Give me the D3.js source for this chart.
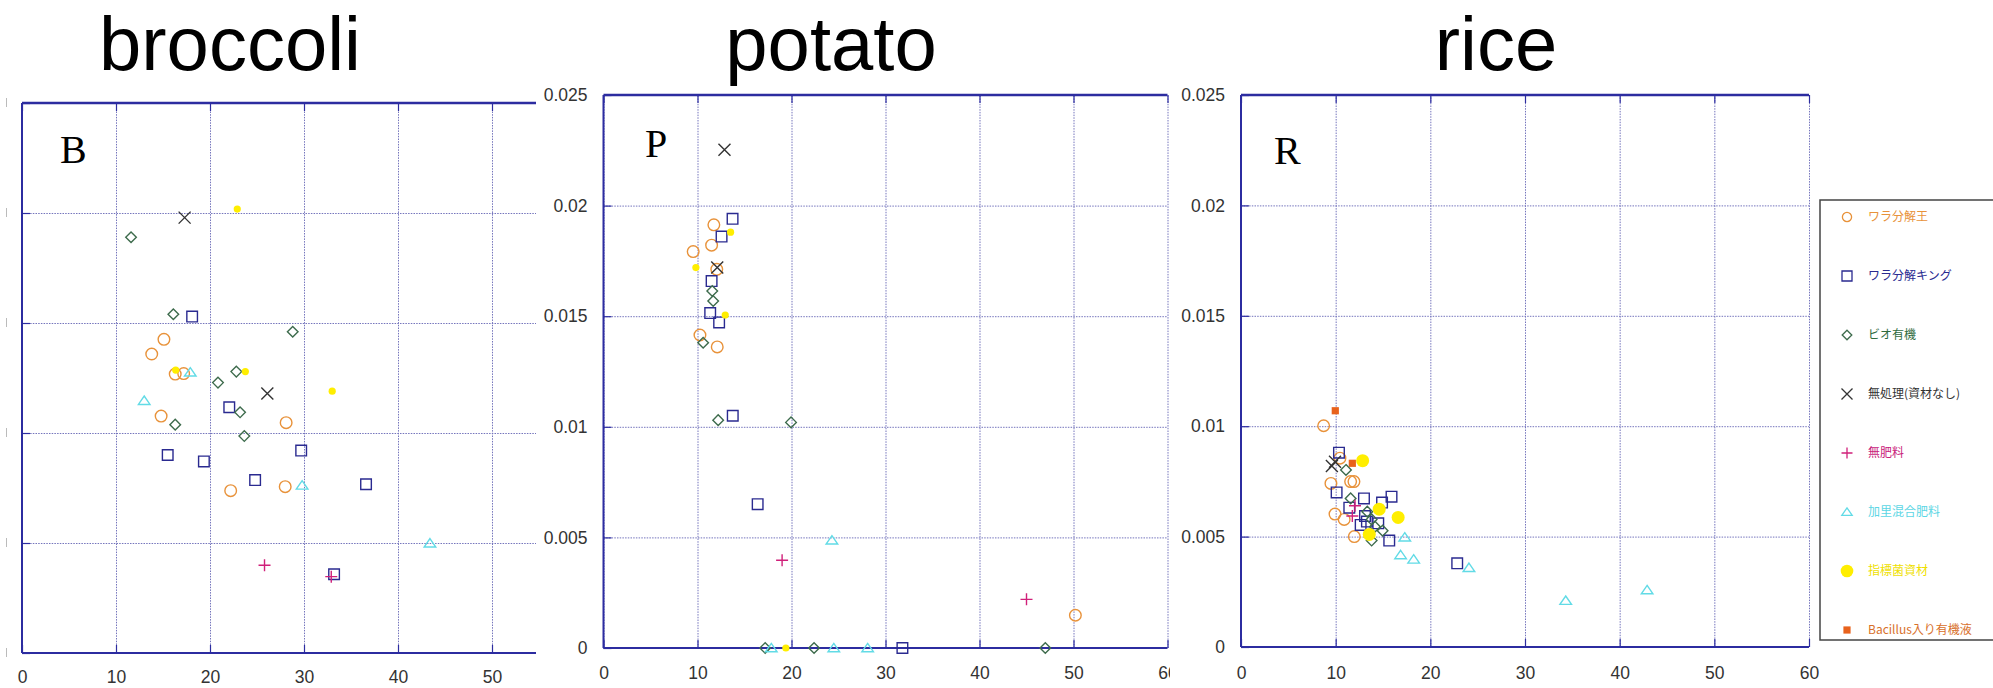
<!DOCTYPE html>
<html><head><meta charset="utf-8">
<script src="https://cdn.jsdelivr.net/npm/d3@7"></script>
<style>body{margin:0;background:#fff;} svg{display:block}</style>
</head><body>
<svg id="c" width="1993" height="688"></svg>
<script>
// ---------- data ----------
const cropTitles = ["broccoli", "potato", "rice"];
const panelLetters = ["B", "P", "R"];
const seriesNames = ["ワラ分解王", "ワラ分解キング", "ビオ有機", "無処理(資材なし)", "無肥料", "加里混合肥料", "指標菌資材", "Bacillus入り有機液"];
const xTicksBroccoli = [0, 10, 20, 30, 40, 50];
const xTicks = [0, 10, 20, 30, 40, 50, 60];
const yTicks = [0, 0.005, 0.01, 0.015, 0.02, 0.025];
const yTickLabels = ["0", "0.005", "0.01", "0.015", "0.02", "0.025"];

// broccoli
const broccoliWaraO = [[15.1,0.01426],[13.8,0.01359],[16.3,0.01268],[17.2,0.0127],[14.8,0.01077],[28.1,0.01047],[22.2,0.00738],[28.0,0.00756]];
const broccoliWaraKing = [[18.1,0.01529],[22.05,0.01117],[29.7,0.0092],[15.5,0.009],[19.35,0.00871],[24.8,0.00786],[36.6,0.00767],[33.2,0.00358]];
const broccoliBio = [[11.6,0.0189],[16.1,0.0154],[28.8,0.0146],[20.85,0.01229],[22.8,0.01279],[23.2,0.01094],[16.3,0.01038],[23.65,0.00986]];
const broccoliNone = [[17.3,0.01979],[26.1,0.0118]];
const broccoliNoFert = [[25.8,0.00399],[32.9,0.00347]];
const broccoliKali = [[17.9,0.01276],[13.0,0.01147],[29.8,0.00762],[43.4,0.00499]];
const broccoliIndicator = [[22.9,0.02018],[16.35,0.01286],[23.76,0.01279],[33.0,0.0119]];
const broccoliBacillus = [];

// potato
const potatoWaraO = [[11.74,0.01913],[11.5,0.01821],[9.54,0.01792],[12.05,0.01712],[10.26,0.01415],[12.1,0.01361],[50.2,0.00148]];
const potatoWaraKing = [[13.73,0.0194],[12.56,0.0186],[11.5,0.01659],[11.35,0.01514],[12.3,0.01472],[13.75,0.0105],[16.4,0.0065],[31.8,0]];
const potatoBio = [[11.57,0.01614],[11.67,0.01569],[10.6,0.0138],[12.2,0.0103],[19.95,0.0102],[17.2,0],[22.4,0],[47.0,0]];
const potatoNone = [[12.87,0.02252],[12.1,0.0172]];
const potatoNoFert = [[19.0,0.00397],[45.0,0.0022]];
const potatoKali = [[24.3,0.00487],[17.85,0],[24.5,0],[28.1,0]];
const potatoIndicator = [[13.52,0.0188],[9.83,0.0172],[12.95,0.01505],[19.4,0]];
const potatoBacillus = [];

// rice
const riceWaraO = [[8.73,0.01002],[10.45,0.00855],[9.5,0.00741],[11.58,0.00749],[11.93,0.00749],[9.93,0.00602],[10.9,0.00578],[11.97,0.005]];
const riceWaraKing = [[10.35,0.0088],[10.1,0.007],[12.99,0.00673],[14.9,0.00654],[15.9,0.00681],[11.44,0.00631],[13.1,0.00593],[12.64,0.00553],[13.3,0.00568],[14.5,0.0056],[15.66,0.00482],[22.84,0.00379]];
const riceBio = [[11.09,0.00802],[11.58,0.00673],[13.34,0.00613],[13.8,0.00578],[14.15,0.00545],[14.96,0.00527],[13.8,0.00482]];
const riceNone = [[9.93,0.00839],[9.6,0.0082]];
const riceNoFert = [[12.04,0.0064],[11.76,0.00593]];
const riceKali = [[17.3,0.00497],[16.86,0.00417],[18.24,0.00397],[24.08,0.00359],[34.3,0.0021],[42.9,0.00258]];
const riceIndicator = [[12.85,0.00844],[14.6,0.00624],[16.6,0.00587],[13.55,0.0051]];
const riceBacillus = [[9.96,0.0107],[11.76,0.00832]];

// ---------- styling ----------
const markerColors = ["#e8923a", "#2a2a90", "#3d6b4c", "#333333", "#d0207a", "#62dbe6", "#ffee00", "#e8621c"];
const textColors   = ["#e8923a", "#2a2a90", "#2f6b3e", "#333333", "#c8207a", "#5cd6e4", "#efe000", "#d8702a"];
const markerTypes  = ["circle", "square", "diamond", "times", "plus", "triangle", "dot", "fsquare"];

function markerPath(type, s) {
  switch (type) {
    case "circle": return d3.arc()({innerRadius:0, outerRadius:s, startAngle:0, endAngle:2*Math.PI});
    case "square": return `M${-s},${-s}H${s}V${s}H${-s}Z`;
    case "fsquare": return `M${-s},${-s}H${s}V${s}H${-s}Z`;
    case "diamond": return `M0,${-s}L${s},0L0,${s}L${-s},0Z`;
    case "times": return `M${-s},${-s}L${s},${s}M${s},${-s}L${-s},${s}`;
    case "plus": return `M${-s},0H${s}M0,${-s}V${s}`;
    case "triangle": return `M0,${-s*0.8}L${s},${s*0.65}L${-s},${s*0.65}Z`;
    case "dot": return d3.arc()({innerRadius:0, outerRadius:s, startAngle:0, endAngle:2*Math.PI});
  }
}
const baseSize = {circle:5.8, square:5.3, fsquare:3.6, diamond:5.3, times:6, plus:6, triangle:5.8, dot:3.6};

const panels = [
  {title: cropTitles[0], letter: panelLetters[0], titleX: 230, letterX: 60, letterY: 163,
   x0: 22, x60: 22 + 94*6, yTop: 103, yBot: 653, clipL: 0, clipR: 536, ticks: xTicksBroccoli, yLabels: false, dotR: 3.6,
   series: [broccoliWaraO, broccoliWaraKing, broccoliBio, broccoliNone, broccoliNoFert, broccoliKali, broccoliIndicator, broccoliBacillus], xLabY: 677},
  {title: cropTitles[1], letter: panelLetters[1], titleX: 831, letterX: 645, letterY: 157,
   x0: 603.5, x60: 1167.5, yTop: 95, yBot: 648, clipL: 536, clipR: 1170, ticks: xTicks, yLabels: true, dotR: 3.6,
   series: [potatoWaraO, potatoWaraKing, potatoBio, potatoNone, potatoNoFert, potatoKali, potatoIndicator, potatoBacillus], xLabY: 673},
  {title: cropTitles[2], letter: panelLetters[2], titleX: 1496, letterX: 1274, letterY: 164,
   x0: 1241, x60: 1809, yTop: 95, yBot: 647, clipL: 1170, clipR: 1830, ticks: xTicks, yLabels: true, dotR: 6.5,
   series: [riceWaraO, riceWaraKing, riceBio, riceNone, riceNoFert, riceKali, riceIndicator, riceBacillus], xLabY: 673}
];

const svg = d3.select("#c");
const defs = svg.append("defs");
const gridColor = "#7474bc";
const frameColor = "#2c2ca0";
const labelFont = "'Liberation Sans', Arial, sans-serif";

panels.forEach((p, pi) => {
  const x = d3.scaleLinear().domain([0, 60]).range([p.x0, p.x60]);
  const y = d3.scaleLinear().domain([0, 0.025]).range([p.yBot, p.yTop]);
  defs.append("clipPath").attr("id", "clip" + pi).append("rect")
    .attr("x", p.clipL).attr("y", 0).attr("width", p.clipR - p.clipL).attr("height", 688);
  const g = svg.append("g").attr("clip-path", `url(#clip${pi})`);

  svg.append("text").attr("x", p.titleX).attr("y", 70).attr("text-anchor", "middle")
    .attr("font-family", labelFont).attr("font-size", 76).attr("fill", "#000").text(p.title);

  const xEnd = Math.min(p.x60, p.clipR);
  g.append("g").attr("transform", `translate(${p.x0},0)`)
    .call(d3.axisLeft(y).tickValues(yTicks).tickSize(-(xEnd - p.x0)).tickFormat(""))
    .call(a => a.select(".domain").remove())
    .call(a => a.selectAll("line").attr("stroke", gridColor).attr("stroke-width", 1).attr("stroke-dasharray", "1.5,1.2"));
  g.append("g").attr("transform", `translate(0,${p.yBot})`)
    .call(d3.axisBottom(x).tickValues(xTicks).tickSize(-(p.yBot - p.yTop)).tickFormat(""))
    .call(a => a.select(".domain").remove())
    .call(a => a.selectAll("line").attr("stroke", gridColor).attr("stroke-width", 1).attr("stroke-dasharray", "1.5,1.2"));
  g.append("g").attr("transform", `translate(${p.x0},0)`)
    .call(d3.axisRight(y).tickValues(yTicks).tickSize(8).tickFormat(""))
    .call(a => a.select(".domain").remove())
    .call(a => a.selectAll("line").attr("stroke", frameColor).attr("stroke-width", 1.2));
  g.append("g").attr("transform", `translate(0,${p.yBot})`)
    .call(d3.axisTop(x).tickValues(xTicks).tickSize(8).tickFormat(""))
    .call(a => a.select(".domain").remove())
    .call(a => a.selectAll("line").attr("stroke", frameColor).attr("stroke-width", 1.2));
  g.append("g").attr("transform", `translate(0,${p.yTop})`)
    .call(d3.axisBottom(x).tickValues(xTicks).tickSize(8).tickFormat(""))
    .call(a => a.select(".domain").remove())
    .call(a => a.selectAll("line").attr("stroke", frameColor).attr("stroke-width", 1.2));

  g.append("line").attr("x1", p.x0).attr("x2", xEnd).attr("y1", p.yBot).attr("y2", p.yBot).attr("stroke", frameColor).attr("stroke-width", 2);
  g.append("line").attr("x1", p.x0).attr("x2", xEnd).attr("y1", p.yTop).attr("y2", p.yTop).attr("stroke", frameColor).attr("stroke-width", 2.4);
  g.append("line").attr("x1", p.x0).attr("x2", p.x0).attr("y1", p.yTop).attr("y2", p.yBot).attr("stroke", frameColor).attr("stroke-width", 2);

  g.append("g").attr("transform", `translate(0,${p.xLabY - 6})`)
    .call(d3.axisBottom(x).tickValues(p.ticks).tickSize(0).tickPadding(0).tickFormat(d3.format("d")))
    .call(a => a.select(".domain").remove())
    .call(a => a.selectAll("text").attr("font-family", labelFont).attr("font-size", 17.5).attr("fill", "#333").attr("dy", "0.35em").attr("y", 6));

  if (p.yLabels) {
    svg.append("g").attr("transform", `translate(${p.x0 - 16},0)`)
      .call(d3.axisLeft(y).tickValues(yTicks).tickSize(0).tickPadding(0).tickFormat((d, i) => yTickLabels[i]))
      .call(a => a.select(".domain").remove())
      .call(a => a.selectAll("text").attr("font-family", labelFont).attr("font-size", 17.5).attr("fill", "#333"));
  } else {
    svg.append("g").selectAll("line").data(yTicks).join("line")
      .attr("x1", 6.5).attr("x2", 6.5).attr("y1", d => y(d) - 5).attr("y2", d => y(d) + 4)
      .attr("stroke", "#bbb").attr("stroke-width", 1);
  }

  svg.append("text").attr("x", p.letterX).attr("y", p.letterY)
    .attr("font-family", "'Liberation Serif', 'Times New Roman', serif").attr("font-size", 40).attr("fill", "#000").text(p.letter);

  p.series.forEach((data, si) => {
    const t = markerTypes[si];
    const filled = (t === "dot" || t === "fsquare");
    const s = t === "dot" ? p.dotR : baseSize[t];
    g.append("g").selectAll("path").data(data).join("path")
      .attr("transform", d => `translate(${x(d[0])},${y(d[1])})`)
      .attr("d", markerPath(t, s))
      .attr("fill", filled ? markerColors[si] : "none")
      .attr("stroke", filled ? "none" : markerColors[si])
      .attr("stroke-width", 1.4);
  });
});

// legend
const legX = 1820, legY = 200, legW = 190, legH = 440;
svg.append("rect").attr("x", legX).attr("y", legY).attr("width", legW).attr("height", legH)
  .attr("fill", "#fff").attr("stroke", "#444").attr("stroke-width", 1.5);
const legScale = d3.scaleLinear().domain([0, 7]).range([217, 630]);
const legSize = {circle:4.6, square:5, fsquare:3.6, diamond:4.8, times:5.5, plus:5.5, triangle:5.2, dot:6.3};
seriesNames.forEach((name, i) => {
  const t = markerTypes[i];
  const filled = (t === "dot" || t === "fsquare");
  svg.append("path").attr("transform", `translate(${legX + 27},${legScale(i)})`)
    .attr("d", markerPath(t, legSize[t]))
    .attr("fill", filled ? markerColors[i] : "none")
    .attr("stroke", filled ? "none" : markerColors[i]).attr("stroke-width", 1.3);
  svg.append("text").attr("x", legX + 48).attr("y", legScale(i)).attr("dy", "0.36em")
    .attr("font-family", "'Noto Sans CJK JP', sans-serif").attr("font-size", 12).attr("fill", textColors[i]).text(name);
});
</script>
</body></html>
